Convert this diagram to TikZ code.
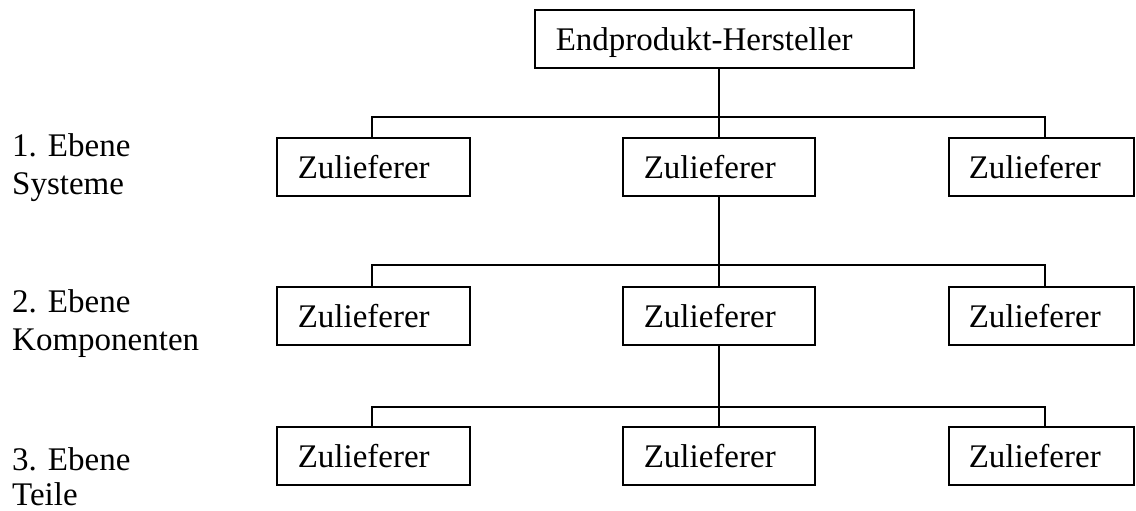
\documentclass[tikz,border=0pt]{standalone}
\usepackage{fontspec}
\setmainfont{Liberation Serif}
\begin{document}
\begin{tikzpicture}[x=1pt,y=-1pt,
  bigfont/.style={font=\fontsize{33}{37}\selectfont},
  box/.style={draw, line width=1.6pt, anchor=north west, minimum height=58pt,
    inner xsep=21pt, align=left, text height=24pt, text depth=0pt, bigfont},
  boxL/.style={box, text width=151pt},
  boxM/.style={box, text width=150pt},
  boxR/.style={box, text width=145pt, inner xsep=20pt},
  conn/.style={line width=1.6pt},
  lvl/.style={anchor=base west, inner sep=0pt, bigfont}]
\useasboundingbox (0,0) rectangle (1136,511);

% top
\node[box, text width=337pt] (top) at (534,9) {Endprodukt-Hersteller};

% level 1
\node[boxL] (L1) at (276,137) {Zulieferer};
\node[boxM] (M1) at (622,137) {Zulieferer};
\node[boxR] (R1) at (948,137) {Zulieferer};
% level 2
\node[boxL] (L2) at (276,286) {Zulieferer};
\node[boxM] (M2) at (622,286) {Zulieferer};
\node[boxR] (R2) at (948,286) {Zulieferer};
% level 3
\node[boxL] (L3) at (276,426) {Zulieferer};
\node[boxM] (M3) at (622,426) {Zulieferer};
\node[boxR] (R3) at (948,426) {Zulieferer};

% bus coordinates
\coordinate (b1) at (718,117);
\coordinate (b2) at (718,265);
\coordinate (b3) at (718,407);

% connectors
\draw[conn] (M1.north |- top.south) -- (M1.north);
\draw[conn] ([xshift=-1.5pt]L1.north) |- (b1) -| ([xshift=3.5pt]R1.north);
\draw[conn] (M1.south) -- (M2.north);
\draw[conn] ([xshift=-1.5pt]L2.north) |- (b2) -| ([xshift=3.5pt]R2.north);
\draw[conn] (M2.south) -- (M3.north);
\draw[conn] ([xshift=-1.5pt]L3.north) |- (b3) -| ([xshift=3.5pt]R3.north);

% level labels
\node[lvl] (e1a) at (12,157) {1. Ebene};
\node[lvl] (e1b) at (12,194) {Systeme};
\node[lvl] (e2a) at (12,312) {2. Ebene};
\node[lvl] (e2b) at (12,350) {Komponenten};
\node[lvl] (e3a) at (12,470) {3. Ebene};
\node[lvl] (e3b) at (12,505) {Teile};
\end{tikzpicture}
\end{document}
